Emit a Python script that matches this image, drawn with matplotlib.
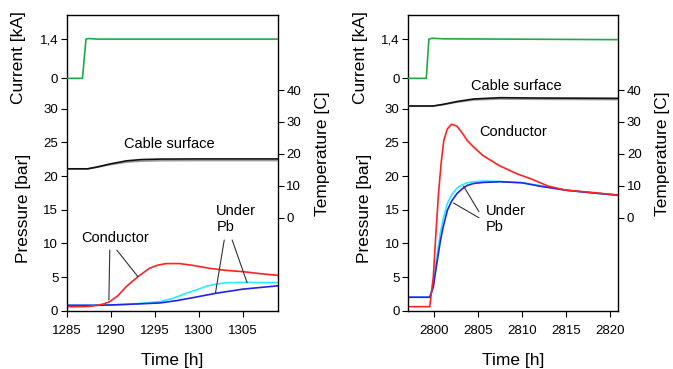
import matplotlib
matplotlib.use('Agg')
import matplotlib.pyplot as plt

plt.rcParams['font.family'] = ['Liberation Sans', 'DejaVu Sans']
plt.rcParams['axes.linewidth'] = 1.0

# ---- left panel data (t ~ 1285-1309 h) ----
left_cur_time = [1285, 1286.8, 1287.2, 1287.5, 1288.5, 1309]
left_current = [0, 0, 1.40, 1.42, 1.40, 1.40]

left_cond_time = [1285, 1286, 1287, 1287.6, 1288.5, 1289.2, 1289.9, 1290.8, 1291.8, 1292.5,
                  1293.1, 1294.4, 1295.3, 1296.3, 1297.8, 1299.5, 1301.2, 1303, 1305, 1307, 1309]
left_conductor = [0.6, 0.6, 0.6, 0.65, 0.8, 1.0, 1.35, 2.2, 3.6, 4.4,
                  5.05, 6.3, 6.75, 7.0, 7.0, 6.7, 6.3, 6.0, 5.8, 5.5, 5.25]

left_pb1_time = [1285, 1288, 1290, 1292, 1294, 1295.6, 1297, 1298.6, 1300, 1300.9, 1302, 1303.1, 1305, 1309]
left_pb1 = [0.8, 0.8, 0.85, 0.95, 1.15, 1.35, 1.8, 2.6, 3.2, 3.65, 3.95, 4.15, 4.2, 4.15]

left_pb2_time = [1285, 1288, 1290, 1293, 1295.6, 1297.5, 1299.4, 1302, 1305, 1307, 1309]
left_pb2 = [0.8, 0.8, 0.85, 1.0, 1.15, 1.5, 1.95, 2.6, 3.2, 3.45, 3.7]

left_surf_time = [1285, 1287.4, 1288.5, 1289.9, 1291.8, 1293.5, 1295.6, 1300, 1309]
left_surf1 = [15.3, 15.3, 15.9, 16.8, 17.8, 18.2, 18.35, 18.4, 18.4]
left_surf2 = [15.3, 15.3, 15.8, 16.6, 17.4, 17.7, 17.85, 17.9, 17.9]

# ---- right panel data (t ~ 2797-2821 h) ----
right_cur_time = [2797, 2799.1, 2799.4, 2799.8, 2801, 2821]
right_current = [0, 0, 1.40, 1.43, 1.41, 1.38]

right_cond_time = [2797, 2799.5, 2799.9, 2800.2, 2800.5, 2800.8, 2801.1, 2801.5, 2802.0, 2802.6, 2803.2,
                   2803.75, 2804.5, 2805.6, 2807.5, 2809.5, 2811, 2813, 2815, 2817.7, 2820, 2821]
right_conductor = [0.6, 0.6, 5.0, 11.5, 17.5, 22.0, 25.3, 27.0, 27.7, 27.4, 26.4,
                   25.3, 24.3, 23.0, 21.5, 20.3, 19.6, 18.5, 17.9, 17.6, 17.3, 17.15]

right_pb_time = [2797, 2799.5, 2799.9, 2800.3, 2800.7, 2801.0, 2801.5, 2802.0, 2802.6, 2803.2,
                 2803.75, 2804.5, 2805.6, 2807.5, 2810, 2812, 2815, 2818, 2821]
right_pb1 = [2.0, 2.0, 4.0, 8.0, 11.5, 13.5, 15.9, 17.2, 18.2, 18.7,
             19.0, 19.15, 19.25, 19.2, 19.0, 18.6, 17.9, 17.5, 17.15]
right_pb2 = [2.0, 2.0, 3.5, 7.0, 10.3, 12.3, 14.9, 16.3, 17.4, 18.1,
             18.6, 18.9, 19.05, 19.15, 19.0, 18.5, 17.9, 17.5, 17.15]

right_surf_time = [2797, 2799.9, 2801, 2802.6, 2804.5, 2807.5, 2812, 2821]
right_surf1 = [35.0, 35.0, 35.5, 36.4, 37.2, 37.6, 37.5, 37.4]
right_surf2 = [35.0, 35.0, 35.4, 36.2, 36.9, 37.2, 37.1, 37.0]

left_xticks = [1285, 1290, 1295, 1300, 1305]
right_xticks = [2800, 2805, 2810, 2815, 2820]

GREEN = '#22a845'
RED = '#ff2222'
CYAN = '#22eeff'
BLUE = '#2222ee'
TICK_FS = 9.5
LABEL_FS = 12.5
NOTE_FS = 10.5


def make_panel(fig, rect, xlim, xticks):
    ax = fig.add_axes(rect)
    ax.set_xlim(*xlim)
    ax.set_ylim(0, 43.9)
    ax.set_xticks(xticks)
    ax.set_yticks([0, 5, 10, 15, 20, 25, 30])
    ax.tick_params(direction='out', length=4, labelsize=TICK_FS, pad=2)
    ax.tick_params(axis='x', pad=6)
    ax.set_ylabel('Pressure [bar]', fontsize=LABEL_FS)
    ax.yaxis.set_label_coords(-0.168, 0.347)
    ax.set_xlabel('Time [h]', fontsize=LABEL_FS, labelpad=12)

    # current axis, drawn on the left in the upper part
    axc = ax.twinx()
    axc.set_ylim(-8.29, 2.255)
    axc.yaxis.tick_left()
    axc.yaxis.set_label_position('left')
    axc.set_yticks([0, 1.4])
    axc.set_yticklabels(['0', '1,4'])
    axc.tick_params(direction='out', length=4, labelsize=TICK_FS, pad=2)
    axc.set_ylabel('Current [kA]', fontsize=LABEL_FS)
    axc.yaxis.set_label_coords(-0.19, 0.858)
    for s in axc.spines.values():
        s.set_visible(False)

    # temperature axis on the right
    axt = ax.twinx()
    axt.set_ylim(-29.2, 63.5)
    axt.set_yticks([0, 10, 20, 30, 40])
    axt.tick_params(direction='out', length=4, labelsize=TICK_FS, pad=2)
    axt.set_ylabel('Temperature [C]', fontsize=LABEL_FS)
    axt.yaxis.set_label_coords(1.175, 0.53)
    for s in axt.spines.values():
        s.set_visible(False)
    return ax, axc, axt


fig = plt.figure(figsize=(6.73, 3.69), dpi=100)

leader = dict(arrowstyle='-', color='#333333', lw=0.8, shrinkA=0, shrinkB=0)

# left panel
ax, axc, axt = make_panel(fig, [0.099, 0.158, 0.314, 0.801], (1285, 1309), left_xticks)
axc.plot(left_cur_time, left_current, color=GREEN, lw=1.2)
axt.plot(left_surf_time, left_surf2, color='#999999', lw=1.2)
axt.plot(left_surf_time, left_surf1, color='#111111', lw=1.2)
ax.plot(left_pb1_time, left_pb1, color=CYAN, lw=1.2)
ax.plot(left_pb2_time, left_pb2, color=BLUE, lw=1.2)
ax.plot(left_cond_time, left_conductor, color=RED, lw=1.2)
ax.text(1296.7, 24.7, 'Cable surface', fontsize=NOTE_FS, ha='center', va='center')
ax.text(1290.5, 10.8, 'Conductor', fontsize=NOTE_FS, ha='center', va='center')
ax.annotate('', xy=(1289.8, 1.6), xytext=(1289.9, 9.0), arrowprops=leader)
ax.annotate('', xy=(1293.1, 5.05), xytext=(1290.7, 9.0), arrowprops=leader)
ax.text(1302.0, 15.9, 'Under\nPb', fontsize=NOTE_FS, ha='left', va='top')
ax.annotate('', xy=(1301.9, 2.6), xytext=(1302.9, 10.5), arrowprops=leader)
ax.annotate('', xy=(1305.5, 4.15), xytext=(1303.8, 10.5), arrowprops=leader)

# right panel
ax, axc, axt = make_panel(fig, [0.606, 0.158, 0.313, 0.801], (2797, 2821), right_xticks)
axc.plot(right_cur_time, right_current, color=GREEN, lw=1.2)
axt.plot(right_surf_time, right_surf2, color='#999999', lw=1.2)
axt.plot(right_surf_time, right_surf1, color='#111111', lw=1.2)
ax.plot(right_pb_time, right_pb1, color=CYAN, lw=1.2)
ax.plot(right_pb_time, right_pb2, color=BLUE, lw=1.2)
ax.plot(right_cond_time, right_conductor, color=RED, lw=1.2)
ax.text(2809.4, 33.4, 'Cable surface', fontsize=NOTE_FS, ha='center', va='center')
ax.text(2808.95, 26.5, 'Conductor', fontsize=NOTE_FS, ha='center', va='center')
ax.text(2805.9, 15.9, 'Under\nPb', fontsize=NOTE_FS, ha='left', va='top')
ax.annotate('', xy=(2803.35, 18.5), xytext=(2805.1, 14.7), arrowprops=leader)
ax.annotate('', xy=(2802.2, 16.0), xytext=(2805.1, 13.8), arrowprops=leader)

fig.savefig('out.png', dpi=100)
